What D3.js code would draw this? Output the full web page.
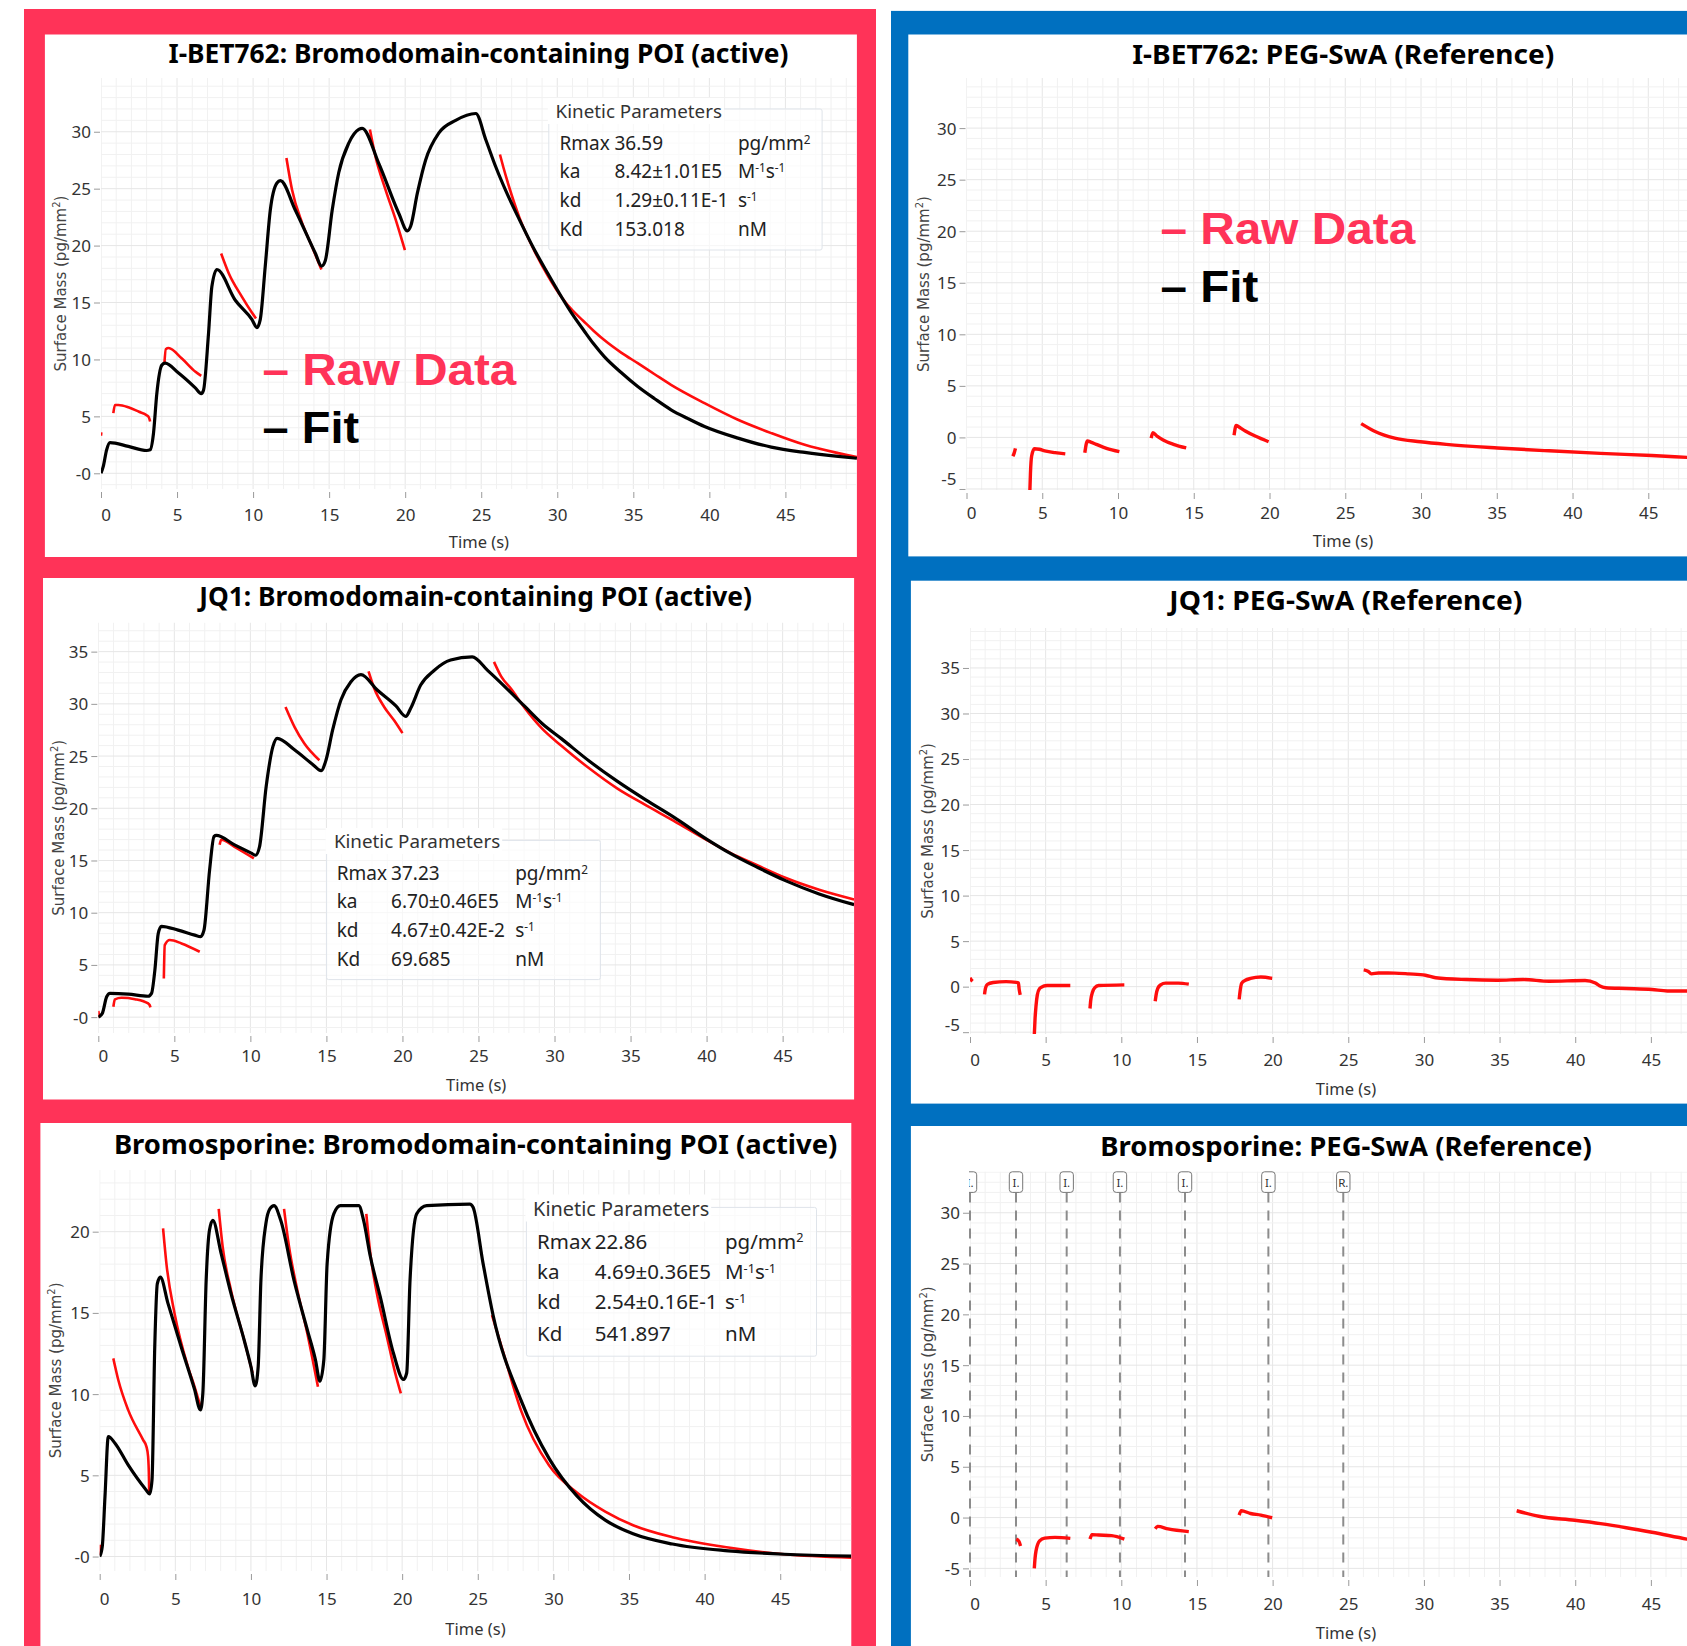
<!DOCTYPE html>
<html><head><meta charset="utf-8">
<script src="https://cdn.jsdelivr.net/npm/d3@7"></script>
<style>body{margin:0;background:#fff}svg{display:block}</style>
</head><body><svg id="c" width="1687" height="1646"></svg>
<script>
// ---------------- DATA ----------------
const timeTicks = [0,5,10,15,20,25,30,35,40,45];
const titles = [
  "I-BET762: Bromodomain-containing POI (active)",
  "I-BET762: PEG-SwA (Reference)",
  "JQ1: Bromodomain-containing POI (active)",
  "JQ1: PEG-SwA (Reference)",
  "Bromosporine: Bromodomain-containing POI (active)",
  "Bromosporine: PEG-SwA (Reference)"
];
const yTicksIbetActive = [0,5,10,15,20,25,30];
const yLabelsIbetActive = ["-0","5","10","15","20","25","30"];
const yTicksJq1Active = [0,5,10,15,20,25,30,35];
const yLabelsJq1Active = ["-0","5","10","15","20","25","30","35"];
const yTicksBromoActive = [0,5,10,15,20];
const yLabelsBromoActive = ["-0","5","10","15","20"];
const yTicksIbetRef = [-5,0,5,10,15,20,25,30];
const yLabelsIbetRef = ["-5","0","5","10","15","20","25","30"];
const yTicksJq1Ref = [-5,0,5,10,15,20,25,30,35];
const yLabelsJq1Ref = ["-5","0","5","10","15","20","25","30","35"];
const yTicksBromoRef = [-5,0,5,10,15,20,25,30];
const yLabelsBromoRef = ["-5","0","5","10","15","20","25","30"];

const paramNames = ["Rmax","ka","kd","Kd"];
const ibetParams = ["36.59","8.42\u00b11.01E5","1.29\u00b10.11E-1","153.018"];
const jq1Params = ["37.23","6.70\u00b10.46E5","4.67\u00b10.42E-2","69.685"];
const bromoParams = ["22.86","4.69\u00b10.36E5","2.54\u00b10.16E-1","541.897"];
// unit pieces: [text, superscript?]
const paramUnits = [
  [["pg/mm",0],["2",1]],
  [["M",0],["-1",1],["s",0],["-1",1]],
  [["s",0],["-1",1]],
  [["nM",0]]
];

const legendLabels = ["\u2013 Raw Data","\u2013 Fit"];
const annotationTimes = [0,3.04,6.39,9.91,14.21,19.72,24.67];
const annotationLabels = ["I.","I.","I.","I.","I.","I.","R."];

// I-BET762 active
const ibetActiveFit = [[0,0],[0.15,0.6],[0.37,2.06],[0.59,2.7],[1.8,2.36],[3.0,2.0],[3.23,2.06],[3.45,3.5],[3.67,7.0],[4.0,9.5],[4.22,9.67],[5.1,8.8],[6.2,7.5],[6.59,7.0],[6.74,7.3],[7.07,12.3],[7.29,16.4],[7.62,17.9],[8.83,15.2],[9.93,13.5],[10.25,12.8],[10.47,13.5],[10.8,18.2],[11.13,23.1],[11.57,25.5],[11.79,25.7],[12.78,23.1],[14.1,19.3],[14.5,18.2],[14.75,18.7],[15.2,23.1],[15.63,26.4],[16.29,29.0],[16.95,30.2],[17.17,30.3],[18.27,27.2],[19.59,22.8],[20.14,21.3],[20.36,21.7],[20.8,24.6],[21.34,27.5],[22.22,29.9],[23.32,31.0],[24.64,31.6],[25.3,29.3],[25.96,26.9],[26.62,24.8],[27.5,22.3],[28.47,19.7],[29.4,17.5],[30.32,15.4],[31.0,13.95],[31.77,12.5],[32.4,11.35],[33.09,10.25],[34.2,8.85],[35.29,7.62],[36.4,6.55],[37.48,5.58],[38.6,4.8],[39.68,4.11],[41.88,3.09],[44.07,2.3],[46.27,1.83],[48.47,1.48],[49.7,1.32]];
const ibetActiveRaw = [
  [[0,3.3],[0.02,3.6]],
  [[0.81,5.28],[0.92,6.0],[1.14,6.0],[1.8,5.8],[2.5,5.4],[3.0,5.1],[3.15,4.9],[3.23,4.55]],
  [[4.17,9.67],[4.26,10.9],[4.44,11.0],[5.3,10.1],[6.19,8.94],[6.59,8.56]],
  [[7.9,19.3],[8.39,17.6],[9.27,15.5],[9.93,14.1],[10.19,13.6]],
  [[12.19,27.7],[12.56,24.9],[13.22,22.0],[13.88,19.9],[14.49,17.9]],
  [[17.68,30.2],[18.05,27.8],[18.71,24.9],[19.37,22.3],[19.98,19.6]],
  [[26.23,28.0],[26.45,26.9],[26.8,25.3],[27.5,22.5],[28.47,19.6],[29.4,17.3],[30.32,15.4],[31.0,14.3],[31.7,13.4],[32.4,12.5],[33.09,11.7],[34.2,10.6],[35.29,9.67],[36.4,8.7],[37.48,7.77],[39.68,6.16],[41.88,4.7],[44.07,3.53],[46.27,2.5],[48.47,1.77],[49.7,1.42]]
];

// JQ1 active
const jq1ActiveFit = [[0,0],[0.26,0.35],[0.55,1.95],[0.77,2.27],[1.97,2.2],[3.28,2.0],[3.5,2.27],[3.72,4.5],[3.94,8.0],[4.15,8.7],[5.25,8.33],[6.34,7.85],[6.73,7.7],[6.95,8.33],[7.32,14.1],[7.61,17.3],[7.76,17.4],[8.96,16.5],[10.06,15.7],[10.34,15.5],[10.6,16.3],[11.04,22.1],[11.48,25.9],[11.76,26.7],[12.9,25.6],[14.1,24.2],[14.65,23.6],[14.97,24.6],[15.41,27.5],[15.96,30.4],[16.6,32.1],[17.27,32.8],[18.36,31.3],[19.57,29.8],[20.22,28.8],[20.55,29.6],[21.2,31.8],[22.08,33.2],[23.17,34.2],[24.59,34.5],[25.6,33.2],[26.76,31.6],[28.05,29.75],[29.2,28.1],[30.45,26.67],[32.3,24.5],[34.14,22.57],[36.0,20.8],[37.84,19.15],[40.05,17.0],[41.53,15.7],[43.4,14.3],[45.22,13.05],[47.4,11.8],[49.7,10.77]];
const jq1ActiveRaw = [
  [[0,0.6],[0.03,0.3],[0.05,0.0]],
  [[0.99,0.99],[1.09,1.7],[1.53,1.85],[2.41,1.72],[3.28,1.31],[3.38,1.15],[3.43,0.93]],
  [[4.31,3.7],[4.37,6.9],[4.7,7.38],[5.47,7.06],[6.67,6.26]],
  [[7.98,16.5],[8.09,17.0],[8.96,16.3],[10.23,15.2]],
  [[12.31,29.7],[12.9,27.8],[13.55,26.2],[14.54,24.6]],
  [[17.77,33.1],[18.14,31.5],[18.8,29.7],[19.46,28.4],[20.0,27.2]],
  [[26.02,34.02],[26.5,32.6],[27.13,31.46],[28.05,29.58],[29.2,27.6],[30.45,25.99],[32.3,23.8],[34.14,21.88],[36.0,20.3],[37.84,18.8],[40.05,16.92],[41.53,15.75],[43.4,14.5],[45.22,13.32],[47.4,12.2],[49.7,11.27]]
];

// Bromosporine active
const bromoActiveFit = [[0,0],[0.17,0.62],[0.35,3.7],[0.57,7.39],[1.01,6.98],[1.88,5.64],[2.98,4.21],[3.31,3.86],[3.46,4.72],[3.64,12.9],[3.81,16.8],[4.01,17.2],[4.51,15.6],[5.39,12.9],[6.27,10.3],[6.66,9.03],[6.82,10.05],[7.04,17.0],[7.26,20.1],[7.48,20.7],[8.02,18.7],[8.68,16.2],[9.56,13.3],[10.0,11.7],[10.28,10.5],[10.48,11.7],[10.66,17.0],[10.99,20.5],[11.25,21.4],[11.53,21.6],[11.97,20.7],[12.85,17.0],[13.73,13.95],[14.27,12.1],[14.56,10.8],[14.82,12.1],[15.04,18.05],[15.48,21.1],[15.92,21.6],[17.13,21.6],[17.45,20.7],[17.89,18.5],[18.55,16.0],[19.43,12.5],[20.09,10.9],[20.3,11.3],[20.52,17.0],[20.96,21.1],[21.62,21.6],[24.47,21.7],[24.69,21.5],[25.35,18.05],[26.01,14.87],[27.87,9.6],[29.72,6.03],[31.57,3.72],[33.43,2.24],[35.27,1.4],[37.87,0.77],[41.57,0.35],[45.27,0.14],[49.7,0.03]];
const bromoActiveRaw = [
  [[0,0.72],[0.02,0.1]],
  [[0.9,12.2],[1.23,10.87],[1.88,9.03],[2.87,7.18],[3.09,6.77],[3.2,6.16],[3.26,4.72],[3.27,3.9]],
  [[4.19,20.2],[4.41,18.05],[4.95,14.97],[5.83,11.7],[6.27,10.46],[6.66,9.23]],
  [[7.87,21.4],[8.13,19.08],[8.68,16.4],[9.56,13.3],[10.11,11.3]],
  [[12.19,21.4],[12.52,19.08],[13.07,16.4],[13.73,13.74],[14.43,10.46]],
  [[17.63,21.1],[17.89,18.7],[18.33,16.2],[18.99,13.54],[19.54,11.3],[19.91,10.05]],
  [[25.94,14.87],[26.76,12.34],[27.87,8.97],[29.72,5.6],[31.57,3.93],[33.43,2.77],[35.27,1.93],[37.87,1.19],[41.57,0.56],[45.27,0.14],[49.7,-0.07]]
];

// Reference surfaces (raw only)
const ibetRefRaw = [
  [[3.06,-1.83],[3.15,-1.5],[3.23,-1.06]],
  [[4.18,-5.3],[4.22,-3.5],[4.3,-1.8],[4.48,-1.1],[4.8,-1.15],[5.16,-1.3],[5.84,-1.48],[6.52,-1.6]],
  [[7.81,-1.48],[7.98,-0.35],[8.2,-0.45],[8.56,-0.67],[9.24,-1.06],[10.09,-1.38]],
  [[12.19,-0.07],[12.3,0.46],[12.6,0.1],[12.98,-0.25],[13.66,-0.67],[14.5,-1.02]],
  [[17.66,0.21],[17.8,1.16],[18.1,0.9],[18.4,0.63],[19.09,0.11],[19.94,-0.42]],
  [[26.05,1.34],[26.9,0.63],[28.26,-0.07],[29.96,-0.42],[31.66,-0.67],[35.05,-1.02],[38.45,-1.3],[41.85,-1.55],[45.24,-1.76],[47.55,-1.94],[49.7,-2.1]]
];
const jq1RefRaw = [
  [[0,0.98],[0.08,0.75],[0.17,0.59]],
  [[0.96,-0.85],[1.02,-0.2],[1.15,0.25],[1.53,0.45],[2.38,0.55],[3.06,0.47],[3.2,0.4],[3.25,-0.3],[3.32,-0.9]],
  [[4.25,-5.3],[4.3,-3.5],[4.36,-2.16],[4.45,-0.9],[4.6,-0.2],[4.85,0.05],[5.1,0.12],[6.63,0.12]],
  [[7.93,-2.4],[7.98,-1.5],[8.1,-0.59],[8.25,-0.1],[8.5,0.12],[10.2,0.2]],
  [[12.24,-1.6],[12.3,-0.9],[12.41,-0.2],[12.6,0.2],[12.92,0.39],[13.77,0.39],[14.46,0.27]],
  [[17.79,-1.4],[17.85,-0.5],[17.96,0.39],[18.2,0.7],[18.54,0.9],[19.22,1.06],[19.97,0.9]],
  [[26.02,1.84],[26.3,1.7],[26.53,1.4],[27.0,1.5],[28.06,1.49],[29.0,1.4],[30.1,1.25],[30.78,0.98],[32.82,0.78],[34.86,0.71],[36.56,0.78],[38.27,0.59],[40.65,0.67],[41.33,0.39],[41.6,0.1],[42.01,-0.12],[43.37,-0.2],[45.07,-0.31],[46.09,-0.47],[47.4,-0.47],[49.7,-0.55]]
];
const bromoRefRaw = [
  [[3.06,-2.12],[3.24,-2.36],[3.34,-2.79]],
  [[4.25,-5.0],[4.3,-4.0],[4.36,-3.3],[4.6,-2.29],[4.94,-2.02],[5.62,-1.95],[6.63,-2.05]],
  [[7.93,-2.12],[8.06,-1.68],[8.5,-1.72],[9.36,-1.78],[10.2,-2.12]],
  [[12.24,-1.11],[12.41,-0.87],[13.09,-1.11],[14.46,-1.38]],
  [[17.79,0.24],[17.93,0.67],[18.54,0.4],[19.22,0.24],[19.97,-0.03]],
  [[36.13,0.67],[37.59,0.13],[39.97,-0.27],[41.67,-0.6],[43.37,-1.0],[45.07,-1.45],[47.38,-2.12],[49.7,-2.7]]
];

// ---------------- LAYOUT ----------------
const panels = [
  {id:"L1", title:titles[0], fit:ibetActiveFit, raw:ibetActiveRaw, yTicks:yTicksIbetActive, yLabels:yLabelsIbetActive, params:ibetParams,
   box:[44.9,34.5,856.9,557], plot:[101,78,856.9,489], xDom:[0,49.7], yDom:[-1.38,34.72],
   tX:478.4, tY:63, tW:620, xLabBase:520.5, xTitleBase:547.5, yTitleX:60.6, rawW:2.6, clamp:0,
   kin:{x:548.8,y:109,w:273.3,h:141,tfs:18.8,fs:19,ty:9,tx:6.8,rows:[40.8,69,97.5,126.6],cols:[10.7,65.7,189.1]},
   legend:{x:262.6,y1:385,y2:443.3,w1:253.7,w2:96.5}},
  {id:"R1", title:titles[1], fit:null, raw:ibetRefRaw, yTicks:yTicksIbetRef, yLabels:yLabelsIbetRef,
   box:[908.3,34.5,1687,556.4], plot:[966.5,78,1719.5,490], xDom:[0,49.7], yDom:[-5.1,34.86],
   tX:1343.2, tY:63.6, tW:422, xLabBase:518.7, xTitleBase:547.3, yTitleX:923.7, rawW:3.4, clamp:11,
   legend:{x:1160.5,y1:244.4,y2:301.8,w1:254.8,w2:97.8}},
  {id:"L2", title:titles[2], fit:jq1ActiveFit, raw:jq1ActiveRaw, yTicks:yTicksJq1Active, yLabels:yLabelsJq1Active, params:jq1Params,
   box:[43,578,854.1,1099.5], plot:[98.3,622.5,854.1,1033], xDom:[0,49.7], yDom:[-1.52,37.79],
   tX:475.6, tY:606.4, tW:552.8, xLabBase:1062.4, xTitleBase:1090.5, yTitleX:58.9, rawW:2.6, clamp:0,
   kin:{x:326.6,y:840.4,w:273.8,h:139.2,tfs:18.8,fs:19,ty:7.6,tx:7.3,rows:[39.2,67.8,96.4,125.6],cols:[10.1,64.5,188.6]}},
  {id:"R2", title:titles[3], fit:null, raw:jq1RefRaw, yTicks:yTicksJq1Ref, yLabels:yLabelsJq1Ref,
   box:[910.9,580.7,1687,1103.6], plot:[970,627.9,1722,1034], xDom:[0,49.7], yDom:[-5.2,39.4],
   tX:1345.8, tY:610, tW:353, xLabBase:1066, xTitleBase:1094.5, yTitleX:927.3, rawW:3.4, clamp:9},
  {id:"L3", title:titles[4], fit:bromoActiveFit, raw:bromoActiveRaw, yTicks:yTicksBromoActive, yLabels:yLabelsBromoActive, params:bromoParams,
   box:[40.4,1123,851.3,1646], plot:[99.7,1169.8,851.3,1571], xDom:[0,49.7], yDom:[-0.89,23.81],
   tX:475.6, tY:1153.8, tW:723.4, xLabBase:1605, xTitleBase:1635, yTitleX:56.1, rawW:2.6, clamp:0,
   kin:{x:526.4,y:1207.4,w:290.1,h:148.8,tfs:19.9,fs:20.5,ty:8.1,tx:6.7,rows:[41.1,71.8,101.9,133.4],cols:[10.6,68.4,198.6]}},
  {id:"R3", title:titles[5], fit:null, raw:bromoRefRaw, yTicks:yTicksBromoRef, yLabels:yLabelsBromoRef,
   box:[910.9,1126,1687,1646], plot:[970,1171.5,1722,1577], xDom:[0,49.7], yDom:[-5.85,34.06],
   tX:1346, tY:1156, tW:491.5, xLabBase:1610, xTitleBase:1638.5, yTitleX:927.3, rawW:3.4, clamp:0, annotations:true}
];

const FONT = "'Noto Sans','Open Sans',sans-serif";
const RED_PANEL = "#FF3358", BLUE_PANEL = "#0070C0";
const svg = d3.select("#c");
const defs = svg.append("defs");

svg.append("rect").attr("x",24).attr("y",9).attr("width",852).attr("height",1640).attr("fill",RED_PANEL);
svg.append("rect").attr("x",891).attr("y",10.9).attr("width",800).attr("height",1640).attr("fill",BLUE_PANEL);

function drawPanel(p){
  const g = svg.append("g");
  g.append("rect").attr("x",p.box[0]).attr("y",p.box[1]).attr("width",p.box[2]-p.box[0]).attr("height",p.box[3]-p.box[1]).attr("fill","#fff");
  const x = d3.scaleLinear().domain(p.xDom).range([p.plot[0],p.plot[2]]);
  const y = d3.scaleLinear().domain(p.yDom).range([p.plot[3],p.plot[1]]);
  const cid = "clip"+p.id;
  defs.append("clipPath").attr("id",cid).append("rect")
    .attr("x",p.plot[0]).attr("y",p.plot[1]).attr("width",p.plot[2]-p.plot[0]).attr("height",p.plot[3]-p.plot[1]);

  // grid
  const grid = g.append("g").attr("clip-path",`url(#${cid})`);
  const gxv = d3.range(Math.ceil(p.xDom[0]), Math.floor(p.xDom[1])+1);
  const gyv = d3.range(Math.ceil(p.yDom[0]), Math.floor(p.yDom[1])+1);
  grid.selectAll(".vx").data(gxv).join("line")
    .attr("x1",d=>x(d)).attr("x2",d=>x(d)).attr("y1",p.plot[1]).attr("y2",p.plot[3])
    .attr("stroke",d=>d%5===0?"#e6e6e6":"#f1f1f1").attr("stroke-width",1);
  grid.selectAll(".hy").data(gyv).join("line")
    .attr("y1",d=>y(d)).attr("y2",d=>y(d)).attr("x1",p.plot[0]).attr("x2",p.plot[2])
    .attr("stroke",d=>d%5===0?"#e6e6e6":"#f1f1f1").attr("stroke-width",1);

  // axes
  const xa = g.append("g").attr("transform",`translate(0,${p.plot[3]+3})`)
    .call(d3.axisBottom(x).tickValues(timeTicks).tickFormat(d3.format("d")).tickSize(6));
  xa.select(".domain").remove();
  xa.selectAll("line").attr("stroke","#9a9a9a");
  xa.selectAll("text").attr("y",p.xLabBase-(p.plot[3]+3)).attr("dy",null)
    .attr("x",d=>d===0?4.5:0)
    .attr("font-family",FONT).attr("font-size",17).attr("fill","#333");
  const ya = g.append("g").attr("transform",`translate(${p.plot[0]-1},0)`)
    .call(d3.axisLeft(y).tickValues(p.yTicks).tickFormat((d,i)=>p.yLabels[i]).tickSize(6).tickPadding(3));
  ya.select(".domain").remove();
  ya.selectAll("line").attr("stroke","#9a9a9a");
  ya.selectAll("text").attr("font-family",FONT).attr("font-size",17).attr("fill","#333").attr("dy","0.35em");
  if(p.clamp){
    ya.selectAll(".tick").each(function(d){
      const ty = y(d);
      if(ty > p.plot[3]-p.clamp){ d3.select(this).select("text").attr("y", (p.plot[3]-p.clamp)-ty); }
    });
  }

  // titles
  g.append("text").attr("x",p.tX).attr("y",p.tY).attr("text-anchor","middle")
    .attr("font-family",FONT).attr("font-weight","bold").attr("font-size",26).attr("fill","#000")
    .attr("textLength",p.tW).attr("lengthAdjust","spacingAndGlyphs").text(p.title);
  g.append("text").attr("x",(p.plot[0]+p.plot[2])/2).attr("y",p.xTitleBase).attr("text-anchor","middle")
    .attr("font-family",FONT).attr("font-size",16.5).attr("fill","#333").text("Time (s)");
  const yt = g.append("text").attr("transform",`translate(${p.yTitleX},${(p.plot[1]+p.plot[3])/2}) rotate(-90)`)
    .attr("text-anchor","middle").attr("dy","0.35em")
    .attr("font-family","'DejaVu Sans',Verdana,sans-serif").attr("font-size",15).attr("fill","#444");
  yt.append("tspan").text("Surface Mass (pg/mm");
  yt.append("tspan").attr("font-size",10).attr("dy","-0.6em").text("2");
  yt.append("tspan").attr("dy","0.4em").text(")");

  // R3 annotations
  if(p.annotations){
    const cidA = "clipA"+p.id;
    defs.append("clipPath").attr("id",cidA).append("rect")
      .attr("x",p.plot[0]-1).attr("y",p.plot[1]-5).attr("width",p.plot[2]-p.plot[0]+1).attr("height",p.plot[3]-p.plot[1]+5);
    const ag = g.append("g").attr("clip-path",`url(#${cidA})`);
    const ann = annotationTimes.map((t,i)=>({t, l:annotationLabels[i]}));
    ag.selectAll(".dl").data(ann).join("line")
      .attr("x1",d=>x(d.t)).attr("x2",d=>x(d.t)).attr("y1",p.plot[1]+21).attr("y2",p.plot[3])
      .attr("stroke","#8c8c8c").attr("stroke-width",2).attr("stroke-dasharray","10,8");
    ag.selectAll(".ab").data(ann).join("rect")
      .attr("x",d=>x(d.t)-6.7).attr("y",p.plot[1]+0.3).attr("width",13.4).attr("height",20.6).attr("rx",3)
      .attr("fill","#fff").attr("stroke","#777").attr("stroke-width",1);
    ag.selectAll(".at").data(ann).join("text")
      .attr("x",d=>x(d.t)).attr("y",p.plot[1]+15).attr("text-anchor","middle")
      .attr("font-family",FONT).attr("font-size",11.5).attr("fill","#333").text(d=>d.l);
  }

  // lines
  const lg = g.append("g").attr("clip-path",`url(#${cid})`);
  const line = d3.line().x(d=>x(d[0])).y(d=>y(d[1])).curve(d3.curveMonotoneX);
  lg.selectAll(".raw").data(p.raw).join("path").attr("d",line)
    .attr("fill","none").attr("stroke","#ff0d0d").attr("stroke-width",p.rawW).attr("stroke-linecap","butt");
  if(p.fit){
    lg.append("path").datum(p.fit).attr("d",line).attr("fill","none")
      .attr("stroke","#000").attr("stroke-width",3.2).attr("stroke-linejoin","round");
  }

  // kinetic parameters box
  if(p.kin){
    const k = p.kin;
    const kg = g.append("g").attr("font-family",FONT);
    kg.append("rect").attr("x",k.x).attr("y",k.y).attr("width",k.w).attr("height",k.h).attr("rx",2)
      .attr("fill","rgba(255,255,255,0.65)").attr("stroke","#dfe4ea").attr("stroke-width",1);
    const tt = kg.append("text").attr("x",k.x+k.tx).attr("y",k.y+k.ty).attr("font-size",k.tfs).attr("fill","#333").text("Kinetic Parameters");
    const bb = tt.node().getBBox();
    kg.insert("rect","text").attr("x",k.x-1).attr("y",bb.y).attr("width",bb.x+bb.width-k.x+3).attr("height",bb.height).attr("fill","#fff");
    paramNames.forEach((nm,i)=>{
      const by = k.y+k.rows[i];
      kg.append("text").attr("x",k.x+k.cols[0]).attr("y",by).attr("font-size",k.fs).attr("fill","#222").text(nm);
      kg.append("text").attr("x",k.x+k.cols[1]).attr("y",by).attr("font-size",k.fs).attr("fill","#222").text(p.params[i]);
      const ut = kg.append("text").attr("x",k.x+k.cols[2]).attr("y",by).attr("font-size",k.fs).attr("fill","#222");
      const shift = 0.5*k.fs*0.62;
      let up = false;
      paramUnits[i].forEach(([s,sup])=>{
        const ts = ut.append("tspan").text(s);
        if(sup){ ts.attr("font-size",k.fs*0.62); if(!up){ ts.attr("dy",-shift); up = true; } }
        else if(up){ ts.attr("dy",shift); up = false; }
      });
    });
  }

  // big legend
  if(p.legend){
    const L = p.legend;
    g.append("text").attr("x",L.x).attr("y",L.y1).attr("font-family","'Liberation Sans',Arial,sans-serif")
      .attr("font-weight","bold").attr("font-size",44).attr("fill",RED_PANEL)
      .attr("textLength",L.w1).attr("lengthAdjust","spacingAndGlyphs").text(legendLabels[0]);
    g.append("text").attr("x",L.x).attr("y",L.y2).attr("font-family","'Liberation Sans',Arial,sans-serif")
      .attr("font-weight","bold").attr("font-size",44).attr("fill","#000")
      .attr("textLength",L.w2).attr("lengthAdjust","spacingAndGlyphs").text(legendLabels[1]);
  }
}
panels.forEach(drawPanel);
</script></body></html>
